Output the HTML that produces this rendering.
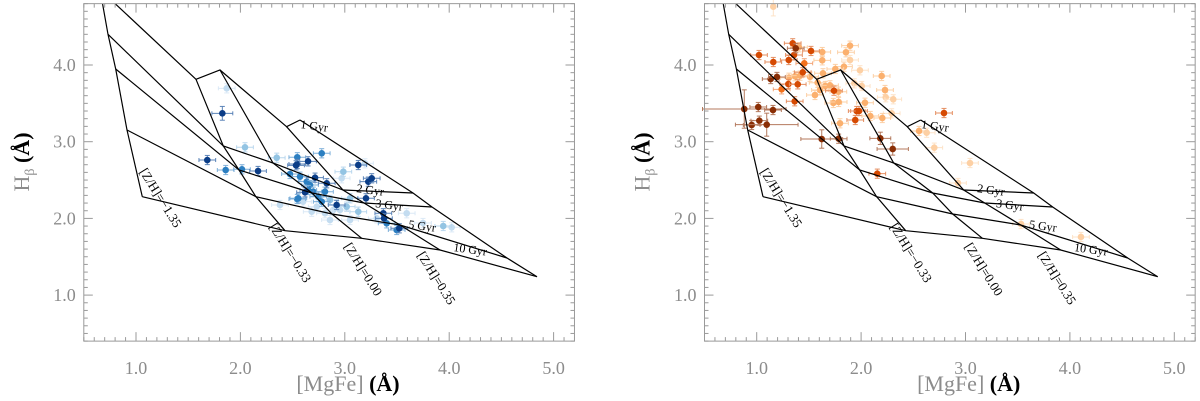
<!DOCTYPE html>
<html><head><meta charset="utf-8"><style>
html,body{margin:0;padding:0;background:#fff;}
svg{display:block;}
</style></head><body>
<svg id="fig" width="1200" height="401" viewBox="0 0 1200 401" xmlns="http://www.w3.org/2000/svg" font-family="'Liberation Serif', serif"></svg>
<script>
// ---- data ----
const xTicks = [1.0, 2.0, 3.0, 4.0, 5.0];
const yTicks = [1.0, 2.0, 3.0, 4.0];
const zLabels = ["[Z/H]=\u22121.35", "[Z/H]=\u22120.33", "[Z/H]=0.00", "[Z/H]=0.35"];
const ageLabels = ["1 Gyr", "2 Gyr", "3 Gyr", "5 Gyr", "10 Gyr"];
// model grid: rows = ages (1,2,3,5,10 Gyr), cols = [Z/H] (-1.35,-0.33,0.00,0.35,0.67)
const modelX = [
  [0.655, 1.575, 1.805, 2.443, 2.571],
  [0.732, 1.836, 2.312, 2.983, 3.653],
  [0.806, 1.987, 2.686, 3.184, 3.835],
  [0.914, 2.148, 2.877, 3.529, 4.554],
  [1.060, 2.427, 3.162, 3.912, 4.841]
];
const modelY = [
  [4.984, 3.814, 3.935, 3.196, 3.283],
  [4.400, 2.944, 2.722, 2.370, 2.331],
  [3.948, 2.631, 2.331, 2.201, 2.149],
  [3.153, 2.283, 2.057, 1.914, 1.484],
  [2.283, 1.840, 1.741, 1.588, 1.240]
];
// blue sample (left panel)
const blueX = [1.869,1.827,2.044,1.683,1.859,2.015,2.169,2.348,2.545,2.545,2.533,2.648,2.475,2.545,2.779,2.571,2.715,2.635,2.667,2.827,2.650,2.619,2.698,2.810,2.746,2.779,2.555,2.922,2.858,2.890,3.018,3.129,2.986,2.970,3.129,3.193,3.225,3.258,3.203,3.050,3.369,3.306,3.401,3.497,3.522,3.943,4.024,2.731,2.683,2.810,2.954,3.749,3.593,2.600,3.375,2.379,2.858,3.050];
const blueY = [3.696,3.370,2.927,2.761,2.631,2.640,2.618,2.791,2.797,2.709,2.692,2.744,2.579,2.253,2.849,2.544,2.531,2.479,2.435,2.458,2.370,2.340,2.348,2.348,2.283,2.218,2.262,2.175,2.240,2.110,2.153,2.087,2.609,2.523,2.696,2.718,2.479,2.523,2.262,2.262,2.067,2.001,1.936,1.849,1.871,1.901,1.884,2.153,2.087,2.067,2.110,1.940,2.067,2.218,2.001,2.175,1.979,1.979];
const blueShade = ["vl","d","l","d","m","m","d","l","m","d","d","d","m","m","m","m","d","m","m","d","m","d","m","m","m","m","m","d","l","vl","l","l","l","vl","d","vl","d","d","d","l","d","vl","m","m","d","l","vl","vl","vl","vl","vl","vl","vl","vl","d","vl","vl","vl"];
const blueBigErr = {1:[0.10,0.09]};
// orange sample (right panel)
const orangeX = [1.159,1.345,1.374,1.520,1.628,1.022,1.357,1.307,1.628,1.159,1.456,1.405,1.894,1.855,1.894,1.836,1.753,1.989,1.441,1.635,1.511,1.134,1.194,1.309,1.367,1.415,2.197,1.303,1.393,1.239,1.584,1.657,1.702,1.740,1.782,1.606,1.558,1.935,2.006,2.229,2.236,2.308,1.364,1.734,1.785,2.037,0.881,1.015,1.156,1.958,1.980,2.088,2.203,1.944,1.025,0.952,1.096,1.798,2.293,1.623,1.785,2.184,2.303,2.555,2.628,2.701,2.155,2.794,3.043,2.928,3.532,4.106];
const orangeY = [4.760,4.283,4.218,4.183,4.169,4.130,4.130,4.065,4.061,4.039,4.022,4.231,4.252,4.166,4.065,3.978,3.948,3.931,3.905,3.892,3.847,3.817,3.844,3.834,3.853,3.861,3.857,3.752,3.748,3.683,3.769,3.726,3.735,3.665,3.652,3.674,3.609,3.761,3.726,3.674,3.579,3.553,3.527,3.505,3.518,3.508,3.426,3.452,3.413,3.400,3.400,3.335,3.309,3.283,3.274,3.218,3.222,3.240,3.370,3.035,3.039,3.044,2.905,3.140,3.117,2.922,2.583,3.374,2.722,2.462,1.927,1.758];
const orangeShade = ["vl","od","dk","od","l","od","od","od","l","od","mo","l","l","l","vl","l","l","vl","od","l","l","dk","dk","l","l","l","l","od","od","mo","l","l","l","od","l","l","l","vl","vl","l","vl","vl","od","l","l","l","dk","dk","dk","od","od","l","l","od","dk","dk","dk","l","vl","dk","dk","dk","dk","l","vl","vl","od","od","vl","vl","vl","vl"];
const orangeBigErr = {0:[0.0,0.12],46:[0.4,0.25],56:[0.3,0.15],59:[0.2,0.12],62:[0.15,0.08],61:[0.1,0.08]};

const blueColors = {d:"#0b3d87", m:"#2c7fc1", l:"#93c4e3", vl:"#c3dcf0"};
const blueErrColors = {d:"#5c84b8", m:"#7fb0da", l:"#b9d7ee", vl:"#dbe9f6"};
const orangeColors = {dk:"#8a2e05", od:"#d64a02", mo:"#f2711c", l:"#fbb06e", vl:"#fdd0a4"};
const orangeErrColors = {dk:"#b47a5e", od:"#e58f62", mo:"#f3a679", l:"#fcd0a6", vl:"#fde3c8"};

// ---- drawing ----
const NS = "http://www.w3.org/2000/svg";
const svg = document.getElementById("fig");
function mk(tag, attrs, parent){
  const e = document.createElementNS(NS, tag);
  for (const k in attrs) e.setAttribute(k, attrs[k]);
  (parent||svg).appendChild(e);
  return e;
}
const X0 = 0.5, X1 = 5.2, Y0 = 0.4, Y1 = 4.8;
function sx(off, x){ return off + 136 + (x - 1) * 104.4; }
function sy(y){ return 65 - (y - 4) * 76.7; }

function panel(off, name, xs, ys, shades, cols, ecols, bigErr){
  const g = mk("g", {});
  
  
  const L = sx(off, X0), R = sx(off, X1), T = sy(Y1), B = sy(Y0);
  const pts = mk("g", {}, g);
  
  
  const order = ["vl","l","m","mo","od","d","dk"];
  const idx = xs.map((_, i) => i).sort((a, b) => order.indexOf(shades[a]) - order.indexOf(shades[b]));
  idx.forEach(i => {
    const px = sx(off, xs[i]), py = sy(ys[i]);
    const e = bigErr[i] || [0.08, 0.06];
    const ex = e[0] * 104.4, ey = e[1] * 76.7;
    const ec = ecols[shades[i]];
    const pg = mk("g", {}, pts);
    
    
    if (ex > 0) {
      mk("line", {x1: px - ex, y1: py, x2: px + ex, y2: py, stroke: ec, "stroke-width": 1}, pg);
      mk("line", {x1: px - ex, y1: py - 2, x2: px - ex, y2: py + 2, stroke: ec, "stroke-width": 1}, pg);
      mk("line", {x1: px + ex, y1: py - 2, x2: px + ex, y2: py + 2, stroke: ec, "stroke-width": 1}, pg);
    }
    mk("line", {x1: px, y1: py - ey, x2: px, y2: py + ey, stroke: ec, "stroke-width": 1}, pg);
    mk("line", {x1: px - 2.5, y1: py - ey, x2: px + 2.5, y2: py - ey, stroke: ec, "stroke-width": 1}, pg);
    mk("line", {x1: px - 2.5, y1: py + ey, x2: px + 2.5, y2: py + ey, stroke: ec, "stroke-width": 1}, pg);
    mk("circle", {cx: px, cy: py, r: 3.3, fill: cols[shades[i]]}, pg);
  });
  const grid = mk("g", {"clip-path": "url(#clip" + off + ")"}, g);
  
  
  const cp = mk("clipPath", {id: "clip" + off}, g);
  mk("rect", {x: L, y: T, width: R - L, height: B - T}, cp);
  for (let r = 0; r < modelX.length; r++) {
    const p = modelX[r].map((x, c) => sx(off, x).toFixed(1) + "," + sy(modelY[r][c]).toFixed(1)).join(" ");
    const pl = mk("polyline", {points: p, fill: "none", stroke: "#000", "stroke-width": 1.2}, grid);
    
    
  }
  for (let c = 0; c < modelX[0].length; c++) {
    const p = modelX.map((row, r) => sx(off, row[c]).toFixed(1) + "," + sy(modelY[r][c]).toFixed(1)).join(" ");
    const pl = mk("polyline", {points: p, fill: "none", stroke: "#000", "stroke-width": 1.2}, grid);
    
    
  }
  const zOff = [[-3, -25], [-16, -4], [-18, 8], [-23, 5]];
  zLabels.forEach((t, c) => {
    const x = sx(off, modelX[4][c]) + zOff[c][0], y = sy(modelY[4][c]) + zOff[c][1];
    const tx = mk("text", {x: x, y: y, "font-size": 13, fill: "#000", transform: "rotate(58 " + x + " " + y + ")"}, g);
    tx.textContent = t;
    
    
  });
  const aPos = [[300, 128], [356, 192], [375, 207], [408, 228], [453, 251]];
  ageLabels.forEach((t, r) => {
    const x = off + aPos[r][0], y = aPos[r][1];
    const tx = mk("text", {x: x, y: y, "font-size": 12, fill: "#000", transform: "rotate(8 " + x + " " + y + ")"}, g);
    tx.textContent = t;
    
    
  });
  const fr = mk("rect", {x: L, y: T, width: R - L, height: B - T, fill: "none", stroke: "#9a9a9a", "stroke-width": 1}, g);
  
  
  const tk = mk("g", {stroke: "#9a9a9a", "stroke-width": 1}, g);
  
  
  for (let k = 5; k <= 52; k++) {
    const v = k / 10, px = sx(off, v), len = (k % 10 === 0) ? 9 : 4;
    mk("line", {x1: px, y1: B, x2: px, y2: B - len}, tk);
    mk("line", {x1: px, y1: T, x2: px, y2: T + len}, tk);
  }
  for (let k = 4; k <= 48; k++) {
    const v = k / 10, py = sy(v), len = (k % 10 === 0) ? 9 : 4;
    mk("line", {x1: L, y1: py, x2: L + len, y2: py}, tk);
    mk("line", {x1: R, y1: py, x2: R - len, y2: py}, tk);
  }
  xTicks.forEach(v => {
    const t = mk("text", {x: sx(off, v), y: 374, "font-size": 18, fill: "#8c8c8c", "text-anchor": "middle"}, g);
    t.textContent = v.toFixed(1);
    
    
  });
  yTicks.forEach(v => {
    const t = mk("text", {x: L - 8, y: sy(v) + 6, "font-size": 18, fill: "#8c8c8c", "text-anchor": "end"}, g);
    t.textContent = v.toFixed(1);
    
    
  });
  const xt = mk("text", {x: off + 348, y: 391, "font-size": 22, "text-anchor": "middle"}, g);
  
  
  const a1 = mk("tspan", {fill: "#8c8c8c"}, xt); a1.textContent = "[MgFe] ";
  const a2 = mk("tspan", {fill: "#000", "font-weight": "bold"}, xt); a2.textContent = "(\u00C5)";
  const yt = mk("text", {x: 0, y: 0, "font-size": 22, "text-anchor": "middle", transform: "translate(" + (off + 29) + ",162) rotate(-90)"}, g);
  
  
  const b1 = mk("tspan", {fill: "#8c8c8c"}, yt); b1.textContent = "H";
  const b2 = mk("tspan", {fill: "#8c8c8c", "font-size": 14, dy: 5}, yt); b2.textContent = "\u03B2";
  const b3 = mk("tspan", {fill: "#000", "font-weight": "bold", dy: -5}, yt); b3.textContent = " (\u00C5)";
}
panel(0, "left-panel", blueX, blueY, blueShade, blueColors, blueErrColors, blueBigErr);
panel(620.7, "right-panel", orangeX, orangeY, orangeShade, orangeColors, orangeErrColors, orangeBigErr);
</script>
</body></html>
